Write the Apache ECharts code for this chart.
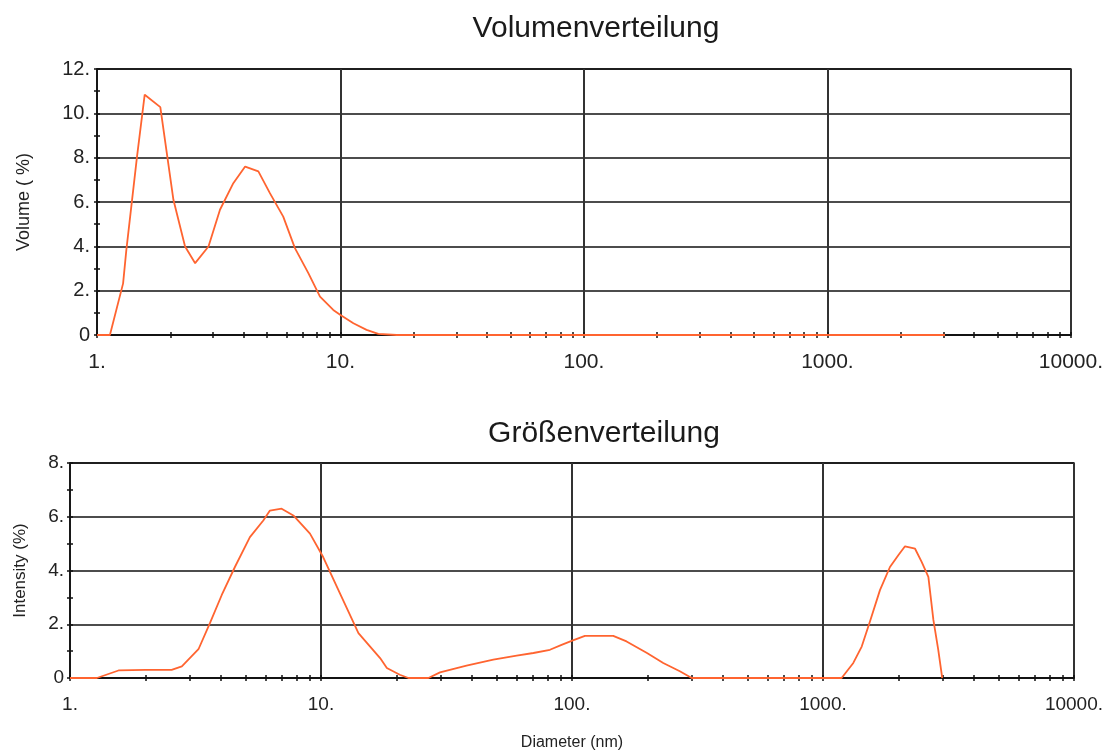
<!DOCTYPE html>
<html>
<head>
<meta charset="utf-8">
<title>Volumenverteilung / Größenverteilung</title>
<script src="https://cdn.jsdelivr.net/npm/echarts@6/dist/echarts.min.js"></script>
<style>
  html, body { margin: 0; padding: 0; background: #fff; }
  #chart { width: 1106px; height: 754px; }
</style>
</head>
<body>
<div id="chart"></div>
<script>
// Volume distribution (upper panel): diameter in nm and volume in %
const volDiameter = [1.0, 1.13, 1.28, 1.32, 1.46, 1.57, 1.82, 2.06, 2.30, 2.53, 2.87, 3.20, 3.63, 4.06, 4.60, 5.13, 5.82, 6.50, 7.38, 8.24, 9.34, 10.0, 11.3, 12.8, 14.3, 17.0, 3040];
const volPercent  = [0, 0, 2.33, 3.84, 8.05, 10.84, 10.28, 6.1, 3.99, 3.24, 3.99, 5.65, 6.85, 7.6, 7.38, 6.4, 5.34, 3.92, 2.79, 1.73, 1.13, 0.9, 0.53, 0.23, 0.05, 0, 0];

// Size distribution (lower panel): diameter in nm and intensity in %
const intDiameter = [1.0, 1.28, 1.56, 2.0, 2.54, 2.79, 3.25, 3.61, 4.02, 4.54, 5.21, 5.89, 6.26, 6.97, 7.76, 9.04, 10.2, 11.9, 14.1, 17.2, 18.3, 20.6, 22.3, 26.8, 29.8, 38.0, 48.6, 60.2, 70.2, 81.7, 90.9, 99.7, 112.6, 146, 165, 199, 231, 269, 300, 1187, 1321, 1427, 1539, 1687, 1849, 1996, 2123, 2328, 2473, 2630, 2754, 2880, 2987];
const intPercent  = [0, 0, 0.28, 0.3, 0.3, 0.43, 1.07, 2.04, 3.08, 4.13, 5.24, 5.86, 6.23, 6.3, 6.05, 5.37, 4.5, 3.15, 1.67, 0.74, 0.37, 0.12, 0, 0, 0.21, 0.46, 0.68, 0.83, 0.93, 1.05, 1.23, 1.38, 1.57, 1.57, 1.36, 0.93, 0.56, 0.25, 0, 0, 0.56, 1.17, 2.1, 3.27, 4.13, 4.57, 4.9, 4.81, 4.32, 3.76, 2.16, 1.05, 0];

// Axis ranges and tick values
const xMin = 1, xMax = 10000;
const volMax = 12, intMax = 8;
const logTicks = [];
for (let dec = 1; dec < xMax; dec *= 10) {
  for (let k = 1; k <= 9; k++) logTicks.push(k * dec);
}
logTicks.push(xMax);

const titles = ['Volumenverteilung', 'Größenverteilung'];
const yNames = ['Volume ( %)', 'Intensity (%)'];
const xName = 'Diameter (nm)';

const FONT = '"Liberation Sans", Arial, sans-serif';
const LINE_COLOR = '#ff6430';

const numFmt = v => (v === 0 ? '0' : v + '.');

function pairs(xs, ys) { return xs.map((x, i) => [x, ys[i]]); }

const grids = [
  { left: 97, right: 35, top: 69, height: 266 },
  { left: 70, right: 32, top: 463, height: 215 }
];

function mainX(gi, labelSize, margin, extra) {
  return Object.assign({
    type: 'log', logBase: 10, gridIndex: gi, min: xMin, max: xMax, position: 'bottom',
    axisLine: { show: true, lineStyle: { color: '#111', width: 1.5 } },
    axisTick: { show: false },
    splitLine: { show: true, lineStyle: { color: '#333', width: 2 } },
    axisLabel: { formatter: numFmt, fontFamily: FONT, fontSize: labelSize, color: '#222', margin: margin, hideOverlap: false, showMaxLabel: true, showMinLabel: true }
  }, extra || {});
}
// Minor tick marks (1..9 per decade) crossing the x axis line
function tickX(gi) {
  return {
    type: 'log', logBase: 10, gridIndex: gi, min: xMin, max: xMax, position: 'bottom', offset: -3,
    axisLine: { show: false },
    splitLine: { show: false },
    axisLabel: { show: false, customValues: logTicks },
    axisTick: { show: true, inside: false, customValues: logTicks, length: 6, lineStyle: { color: '#111', width: 1.5 } }
  };
}
function mainY(gi, max, labelSize, margin, name, nameGap, nameSize) {
  return {
    type: 'value', gridIndex: gi, min: 0, max: max, interval: 2, position: 'left',
    name: name, nameLocation: 'middle', nameGap: nameGap, nameRotate: 90,
    nameTextStyle: { fontFamily: FONT, fontSize: nameSize, color: '#222' },
    axisLine: { show: true, lineStyle: { color: '#111', width: 1.5 } },
    axisTick: { show: false },
    splitLine: { show: true, lineStyle: { color: '#111', width: 1.5 } },
    axisLabel: { formatter: numFmt, fontFamily: FONT, fontSize: labelSize, color: '#222', margin: margin }
  };
}
// Unit tick marks crossing the y axis line
function tickY(gi, max) {
  return {
    type: 'value', gridIndex: gi, min: 0, max: max, interval: 1, position: 'left', offset: -3,
    axisLine: { show: false },
    splitLine: { show: false },
    axisLabel: { show: false },
    axisTick: { show: true, inside: false, length: 6, lineStyle: { color: '#111', width: 1.5 } }
  };
}

const chart = echarts.init(document.getElementById('chart'), null, { renderer: 'canvas' });
chart.setOption({
  animation: false,
  backgroundColor: '#fff',
  title: [
    { text: titles[0], left: 591, top: 9, textAlign: 'center', textStyle: { fontFamily: FONT, fontSize: 30, fontWeight: 'normal', color: '#1a1a1a' } },
    { text: titles[1], left: 599, top: 414, textAlign: 'center', textStyle: { fontFamily: FONT, fontSize: 30, fontWeight: 'normal', color: '#1a1a1a' } }
  ],
  grid: grids.map(g => Object.assign({ show: true, borderColor: '#111', borderWidth: 1.5, backgroundColor: 'transparent' }, g)),
  xAxis: [
    mainX(0, 21, 17),
    mainX(1, 19, 17, {
      name: xName, nameLocation: 'middle', nameGap: 57,
      nameTextStyle: { fontFamily: FONT, fontSize: 16, color: '#222' }
    }),
    tickX(0),
    tickX(1)
  ],
  yAxis: [
    mainY(0, volMax, 20, 7, yNames[0], 64, 18),
    mainY(1, intMax, 19, 6, yNames[1], 41, 17),
    tickY(0, volMax),
    tickY(1, intMax)
  ],
  series: [
    {
      type: 'line', xAxisIndex: 0, yAxisIndex: 0, data: pairs(volDiameter, volPercent),
      symbol: 'none', smooth: false, z: 5,
      lineStyle: { color: LINE_COLOR, width: 1.8 }
    },
    {
      type: 'line', xAxisIndex: 1, yAxisIndex: 1, data: pairs(intDiameter, intPercent),
      symbol: 'none', smooth: false, z: 5,
      lineStyle: { color: LINE_COLOR, width: 1.8 }
    }
  ]
});
</script>
</body>
</html>
